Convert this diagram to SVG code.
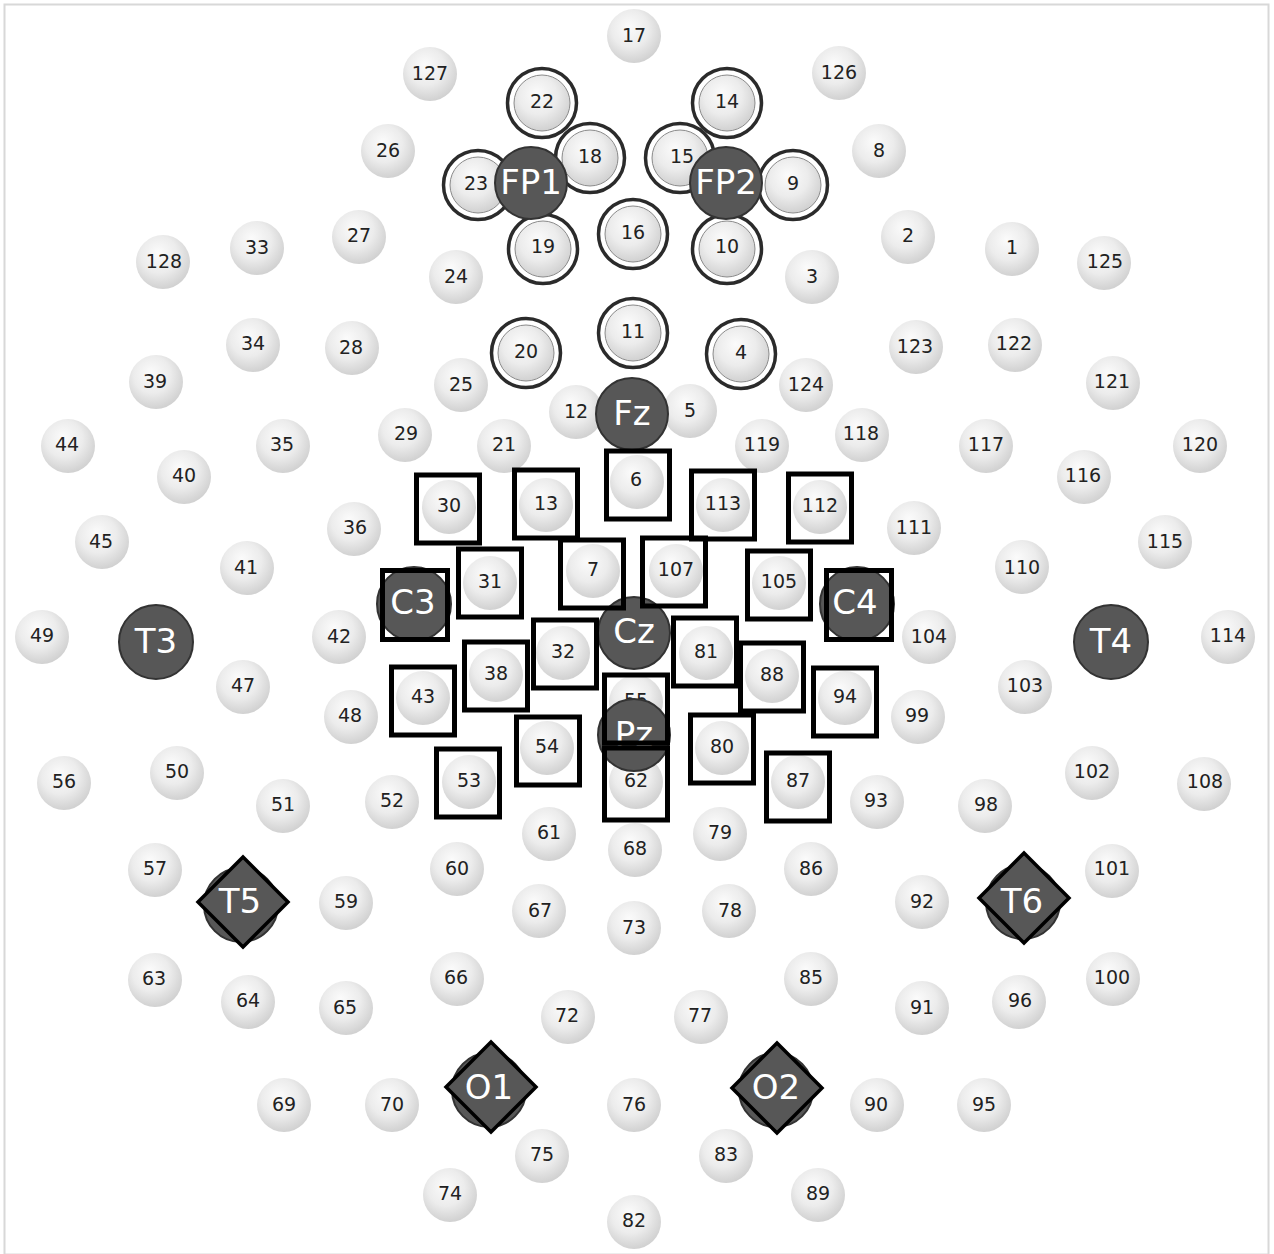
<svg xmlns="http://www.w3.org/2000/svg" width="1274" height="1254" viewBox="0 0 1274 1254">
<defs>
<radialGradient id="lg" cx="0.45" cy="0.4" r="0.62" fx="0.4" fy="0.32">
<stop offset="0" stop-color="#fbfbfb"/>
<stop offset="0.55" stop-color="#ececec"/>
<stop offset="1" stop-color="#cfcfcf"/>
</radialGradient>
<style>
.c{fill:url(#lg)}
.r{fill:#fff;stroke:#2b2b2b;stroke-width:3.5}
.ci{fill:url(#lg);stroke:#8a8a8a;stroke-width:1}
.d{fill:#575757;stroke:#333;stroke-width:2}
.s{fill:none;stroke:#000;stroke-width:5}
.m{fill:#575757;stroke:#000;stroke-width:3.5}
.n{font-family:"DejaVu Sans",sans-serif;font-size:19px;fill:#222;text-anchor:middle;dominant-baseline:central}
.L{font-family:"DejaVu Sans",sans-serif;font-size:34px;fill:#fff;text-anchor:middle;dominant-baseline:central}
</style>
</defs>
<rect x="0" y="0" width="1274" height="1254" fill="#fff"/>
<rect x="4.5" y="4.5" width="1264" height="1250" fill="none" stroke="#d8d8d8" stroke-width="2"/>
<g id="connectors"/>
<g id="rings">
<g id="e22"><circle class="r" cx="542" cy="103" r="34.5"/><circle class="ci" cx="542" cy="103" r="28"/><text class="n" x="542" y="101">22</text></g>
<g id="e14"><circle class="r" cx="727" cy="103" r="34.5"/><circle class="ci" cx="727" cy="103" r="28"/><text class="n" x="727" y="101">14</text></g>
<g id="e23"><circle class="r" cx="478" cy="185" r="34.5"/><circle class="ci" cx="478" cy="185" r="28"/><text class="n" x="476" y="183">23</text></g>
<g id="e9"><circle class="r" cx="793" cy="185" r="34.5"/><circle class="ci" cx="793" cy="185" r="28"/><text class="n" x="793" y="183">9</text></g>
<g id="e19"><circle class="r" cx="543" cy="249" r="34.5"/><circle class="ci" cx="543" cy="249" r="28"/><text class="n" x="543" y="246">19</text></g>
<g id="e10"><circle class="r" cx="727" cy="249" r="34.5"/><circle class="ci" cx="727" cy="249" r="28"/><text class="n" x="727" y="246">10</text></g>
<g id="e18"><circle class="r" cx="590" cy="158" r="34.5"/><circle class="ci" cx="590" cy="158" r="28"/><text class="n" x="590" y="156">18</text></g>
<g id="e15"><circle class="r" cx="680" cy="158" r="34.5"/><circle class="ci" cx="680" cy="158" r="28"/><text class="n" x="682" y="156">15</text></g>
<g id="e16"><circle class="r" cx="633" cy="234" r="34.5"/><circle class="ci" cx="633" cy="234" r="28"/><text class="n" x="633" y="232">16</text></g>
<g id="e11"><circle class="r" cx="633" cy="333" r="34.5"/><circle class="ci" cx="633" cy="333" r="28"/><text class="n" x="633" y="331">11</text></g>
<g id="e20"><circle class="r" cx="526" cy="353" r="34.5"/><circle class="ci" cx="526" cy="353" r="28"/><text class="n" x="526" y="351">20</text></g>
<g id="e4"><circle class="r" cx="741" cy="354" r="34.5"/><circle class="ci" cx="741" cy="354" r="28"/><text class="n" x="741" y="352">4</text></g>
</g>
<g id="plain">
<g id="e17"><circle class="c" cx="634" cy="36" r="27"/><text class="n" x="634" y="35">17</text></g>
<g id="e127"><circle class="c" cx="430" cy="74" r="27"/><text class="n" x="430" y="73">127</text></g>
<g id="e126"><circle class="c" cx="839" cy="73" r="27"/><text class="n" x="839" y="72">126</text></g>
<g id="e26"><circle class="c" cx="388" cy="151" r="27"/><text class="n" x="388" y="150">26</text></g>
<g id="e8"><circle class="c" cx="879" cy="151" r="27"/><text class="n" x="879" y="150">8</text></g>
<g id="e27"><circle class="c" cx="359" cy="237" r="27"/><text class="n" x="359" y="235">27</text></g>
<g id="e2"><circle class="c" cx="908" cy="237" r="27"/><text class="n" x="908" y="235">2</text></g>
<g id="e33"><circle class="c" cx="257" cy="248" r="27"/><text class="n" x="257" y="247">33</text></g>
<g id="e1"><circle class="c" cx="1012" cy="249" r="27"/><text class="n" x="1012" y="247">1</text></g>
<g id="e128"><circle class="c" cx="163" cy="262" r="27"/><text class="n" x="164" y="261">128</text></g>
<g id="e125"><circle class="c" cx="1104" cy="263" r="27"/><text class="n" x="1105" y="261">125</text></g>
<g id="e24"><circle class="c" cx="456" cy="277" r="27"/><text class="n" x="456" y="276">24</text></g>
<g id="e3"><circle class="c" cx="812" cy="277" r="27"/><text class="n" x="812" y="276">3</text></g>
<g id="e34"><circle class="c" cx="253" cy="345" r="27"/><text class="n" x="253" y="343">34</text></g>
<g id="e28"><circle class="c" cx="352" cy="348" r="27"/><text class="n" x="351" y="347">28</text></g>
<g id="e123"><circle class="c" cx="916" cy="347" r="27"/><text class="n" x="915" y="346">123</text></g>
<g id="e122"><circle class="c" cx="1015" cy="345" r="27"/><text class="n" x="1014" y="343">122</text></g>
<g id="e39"><circle class="c" cx="156" cy="382" r="27"/><text class="n" x="155" y="381">39</text></g>
<g id="e121"><circle class="c" cx="1113" cy="383" r="27"/><text class="n" x="1112" y="381">121</text></g>
<g id="e25"><circle class="c" cx="461" cy="385" r="27"/><text class="n" x="461" y="384">25</text></g>
<g id="e124"><circle class="c" cx="806" cy="385" r="27"/><text class="n" x="806" y="384">124</text></g>
<g id="e12"><circle class="c" cx="576" cy="412" r="27"/><text class="n" x="576" y="411">12</text></g>
<g id="e5"><circle class="c" cx="690" cy="411" r="27"/><text class="n" x="690" y="410">5</text></g>
<g id="e44"><circle class="c" cx="68" cy="446" r="27"/><text class="n" x="67" y="444">44</text></g>
<g id="e35"><circle class="c" cx="283" cy="446" r="27"/><text class="n" x="282" y="444">35</text></g>
<g id="e29"><circle class="c" cx="405" cy="435" r="27"/><text class="n" x="406" y="433">29</text></g>
<g id="e21"><circle class="c" cx="504" cy="446" r="27"/><text class="n" x="504" y="444">21</text></g>
<g id="e119"><circle class="c" cx="762" cy="446" r="27"/><text class="n" x="762" y="444">119</text></g>
<g id="e118"><circle class="c" cx="862" cy="435" r="27"/><text class="n" x="861" y="433">118</text></g>
<g id="e117"><circle class="c" cx="986" cy="446" r="27"/><text class="n" x="986" y="444">117</text></g>
<g id="e120"><circle class="c" cx="1200" cy="446" r="27"/><text class="n" x="1200" y="444">120</text></g>
<g id="e40"><circle class="c" cx="184" cy="477" r="27"/><text class="n" x="184" y="475">40</text></g>
<g id="e116"><circle class="c" cx="1084" cy="477" r="27"/><text class="n" x="1083" y="475">116</text></g>
<g id="e36"><circle class="c" cx="354" cy="529" r="27"/><text class="n" x="355" y="527">36</text></g>
<g id="e111"><circle class="c" cx="914" cy="528" r="27"/><text class="n" x="914" y="527">111</text></g>
<g id="e45"><circle class="c" cx="102" cy="542" r="27"/><text class="n" x="101" y="541">45</text></g>
<g id="e115"><circle class="c" cx="1165" cy="542" r="27"/><text class="n" x="1165" y="541">115</text></g>
<g id="e41"><circle class="c" cx="247" cy="568" r="27"/><text class="n" x="246" y="567">41</text></g>
<g id="e110"><circle class="c" cx="1022" cy="567" r="27"/><text class="n" x="1022" y="567">110</text></g>
<g id="e49"><circle class="c" cx="42" cy="637" r="27"/><text class="n" x="42" y="635">49</text></g>
<g id="e42"><circle class="c" cx="339" cy="637" r="27"/><text class="n" x="339" y="636">42</text></g>
<g id="e104"><circle class="c" cx="929" cy="637" r="27"/><text class="n" x="929" y="636">104</text></g>
<g id="e114"><circle class="c" cx="1228" cy="637" r="27"/><text class="n" x="1228" y="635">114</text></g>
<g id="e47"><circle class="c" cx="243" cy="687" r="27"/><text class="n" x="243" y="685">47</text></g>
<g id="e103"><circle class="c" cx="1025" cy="687" r="27"/><text class="n" x="1025" y="685">103</text></g>
<g id="e48"><circle class="c" cx="351" cy="717" r="27"/><text class="n" x="350" y="715">48</text></g>
<g id="e99"><circle class="c" cx="918" cy="717" r="27"/><text class="n" x="917" y="715">99</text></g>
<g id="e56"><circle class="c" cx="64" cy="783" r="27"/><text class="n" x="64" y="781">56</text></g>
<g id="e50"><circle class="c" cx="177" cy="773" r="27"/><text class="n" x="177" y="771">50</text></g>
<g id="e102"><circle class="c" cx="1092" cy="773" r="27"/><text class="n" x="1092" y="771">102</text></g>
<g id="e108"><circle class="c" cx="1204" cy="784" r="27"/><text class="n" x="1205" y="781">108</text></g>
<g id="e51"><circle class="c" cx="283" cy="806" r="27"/><text class="n" x="283" y="804">51</text></g>
<g id="e52"><circle class="c" cx="392" cy="802" r="27"/><text class="n" x="392" y="800">52</text></g>
<g id="e93"><circle class="c" cx="877" cy="802" r="27"/><text class="n" x="876" y="800">93</text></g>
<g id="e98"><circle class="c" cx="985" cy="806" r="27"/><text class="n" x="986" y="804">98</text></g>
<g id="e61"><circle class="c" cx="549" cy="834" r="27"/><text class="n" x="549" y="832">61</text></g>
<g id="e79"><circle class="c" cx="720" cy="834" r="27"/><text class="n" x="720" y="832">79</text></g>
<g id="e68"><circle class="c" cx="635" cy="850" r="27"/><text class="n" x="635" y="848">68</text></g>
<g id="e57"><circle class="c" cx="155" cy="870" r="27"/><text class="n" x="155" y="868">57</text></g>
<g id="e60"><circle class="c" cx="457" cy="869" r="27"/><text class="n" x="457" y="868">60</text></g>
<g id="e86"><circle class="c" cx="811" cy="869" r="27"/><text class="n" x="811" y="868">86</text></g>
<g id="e101"><circle class="c" cx="1112" cy="871" r="27"/><text class="n" x="1112" y="868">101</text></g>
<g id="e59"><circle class="c" cx="346" cy="903" r="27"/><text class="n" x="346" y="901">59</text></g>
<g id="e67"><circle class="c" cx="539" cy="911" r="27"/><text class="n" x="540" y="910">67</text></g>
<g id="e78"><circle class="c" cx="729" cy="911" r="27"/><text class="n" x="730" y="910">78</text></g>
<g id="e92"><circle class="c" cx="922" cy="902" r="27"/><text class="n" x="922" y="901">92</text></g>
<g id="e73"><circle class="c" cx="634" cy="928" r="27"/><text class="n" x="634" y="927">73</text></g>
<g id="e63"><circle class="c" cx="155" cy="980" r="27"/><text class="n" x="154" y="978">63</text></g>
<g id="e64"><circle class="c" cx="248" cy="1002" r="27"/><text class="n" x="248" y="1000">64</text></g>
<g id="e65"><circle class="c" cx="346" cy="1008" r="27"/><text class="n" x="345" y="1007">65</text></g>
<g id="e66"><circle class="c" cx="457" cy="979" r="27"/><text class="n" x="456" y="977">66</text></g>
<g id="e85"><circle class="c" cx="811" cy="979" r="27"/><text class="n" x="811" y="977">85</text></g>
<g id="e91"><circle class="c" cx="922" cy="1008" r="27"/><text class="n" x="922" y="1007">91</text></g>
<g id="e96"><circle class="c" cx="1019" cy="1002" r="27"/><text class="n" x="1020" y="1000">96</text></g>
<g id="e100"><circle class="c" cx="1113" cy="979" r="27"/><text class="n" x="1112" y="977">100</text></g>
<g id="e72"><circle class="c" cx="568" cy="1017" r="27"/><text class="n" x="567" y="1015">72</text></g>
<g id="e77"><circle class="c" cx="701" cy="1017" r="27"/><text class="n" x="700" y="1015">77</text></g>
<g id="e69"><circle class="c" cx="284" cy="1105" r="27"/><text class="n" x="284" y="1104">69</text></g>
<g id="e70"><circle class="c" cx="392" cy="1105" r="27"/><text class="n" x="392" y="1104">70</text></g>
<g id="e76"><circle class="c" cx="634" cy="1105" r="27"/><text class="n" x="634" y="1104">76</text></g>
<g id="e90"><circle class="c" cx="877" cy="1105" r="27"/><text class="n" x="876" y="1104">90</text></g>
<g id="e95"><circle class="c" cx="984" cy="1105" r="27"/><text class="n" x="984" y="1104">95</text></g>
<g id="e75"><circle class="c" cx="542" cy="1156" r="27"/><text class="n" x="542" y="1154">75</text></g>
<g id="e83"><circle class="c" cx="726" cy="1156" r="27"/><text class="n" x="726" y="1154">83</text></g>
<g id="e74"><circle class="c" cx="450" cy="1195" r="27"/><text class="n" x="450" y="1193">74</text></g>
<g id="e89"><circle class="c" cx="818" cy="1195" r="27"/><text class="n" x="818" y="1193">89</text></g>
<g id="e82"><circle class="c" cx="634" cy="1222" r="27"/><text class="n" x="634" y="1220">82</text></g>
<g id="e6"><circle class="c" cx="637" cy="482" r="27"/><text class="n" x="636" y="479">6</text></g>
<g id="e30"><circle class="c" cx="449" cy="507" r="27"/><text class="n" x="449" y="505">30</text></g>
<g id="e13"><circle class="c" cx="546" cy="505" r="27"/><text class="n" x="546" y="503">13</text></g>
<g id="e113"><circle class="c" cx="723" cy="505" r="27"/><text class="n" x="723" y="503">113</text></g>
<g id="e112"><circle class="c" cx="820" cy="507" r="27"/><text class="n" x="820" y="505">112</text></g>
<g id="e7"><circle class="c" cx="593" cy="571" r="27"/><text class="n" x="593" y="569">7</text></g>
<g id="e107"><circle class="c" cx="676" cy="571" r="27"/><text class="n" x="676" y="569">107</text></g>
<g id="e31"><circle class="c" cx="490" cy="583" r="27"/><text class="n" x="490" y="581">31</text></g>
<g id="e105"><circle class="c" cx="779" cy="583" r="27"/><text class="n" x="779" y="581">105</text></g>
<g id="e32"><circle class="c" cx="563" cy="653" r="27"/><text class="n" x="563" y="651">32</text></g>
<g id="e81"><circle class="c" cx="706" cy="653" r="27"/><text class="n" x="706" y="651">81</text></g>
<g id="e38"><circle class="c" cx="496" cy="675" r="27"/><text class="n" x="496" y="673">38</text></g>
<g id="e88"><circle class="c" cx="772" cy="676" r="27"/><text class="n" x="772" y="674">88</text></g>
<g id="e43"><circle class="c" cx="423" cy="698" r="27"/><text class="n" x="423" y="696">43</text></g>
<g id="e94"><circle class="c" cx="845" cy="698" r="27"/><text class="n" x="845" y="696">94</text></g>
<g id="e55"><circle class="c" cx="636" cy="702" r="27"/><text class="n" x="636" y="700">55</text></g>
<g id="e54"><circle class="c" cx="547" cy="748" r="27"/><text class="n" x="547" y="746">54</text></g>
<g id="e80"><circle class="c" cx="722" cy="748" r="27"/><text class="n" x="722" y="746">80</text></g>
<g id="e53"><circle class="c" cx="469" cy="782" r="27"/><text class="n" x="469" y="780">53</text></g>
<g id="e62"><circle class="c" cx="636" cy="782" r="27"/><text class="n" x="636" y="780">62</text></g>
<g id="e87"><circle class="c" cx="798" cy="782" r="27"/><text class="n" x="798" y="780">87</text></g>
</g>
<g id="named">
<g id="FP1"><circle class="d" cx="531" cy="183" r="36"/><text class="L" x="531" y="182">FP1</text></g>
<g id="FP2"><circle class="d" cx="726" cy="183" r="36"/><text class="L" x="726" y="182">FP2</text></g>
<g id="Fz"><circle class="d" cx="632" cy="414" r="36"/><text class="L" x="632" y="413">Fz</text></g>
<g id="T3"><circle class="d" cx="156" cy="642" r="37"/><text class="L" x="156" y="641">T3</text></g>
<g id="T4"><circle class="d" cx="1111" cy="642" r="37"/><text class="L" x="1111" y="641">T4</text></g>
<g id="Cz"><circle class="d" cx="634" cy="633" r="36"/><text class="L" x="634" y="631">Cz</text></g>
<g id="Pz"><circle class="d" cx="634" cy="735" r="36"/><text class="L" x="634" y="734">Pz</text></g>
<g id="C3"><circle class="d" cx="414" cy="604" r="37"/><rect class="s" x="382.5" y="570.5" width="65" height="69"/><text class="L" x="413" y="602">C3</text></g>
<g id="C4"><circle class="d" cx="857" cy="604" r="37"/><rect class="s" x="826.5" y="570.5" width="65" height="69"/><text class="L" x="855" y="602">C4</text></g>
<g id="T5"><circle class="d" cx="241" cy="905" r="37"/><polygon class="m" points="243,857 288,902 243,947 198,902"/><text class="L" x="240" y="901">T5</text></g>
<g id="T6"><circle class="d" cx="1023" cy="902" r="37"/><polygon class="m" points="1024,853 1069,898 1024,943 979,898"/><text class="L" x="1022" y="901">T6</text></g>
<g id="O1"><circle class="d" cx="489" cy="1090" r="37"/><polygon class="m" points="491,1042 536,1087 491,1132 446,1087"/><text class="L" x="489" y="1087">O1</text></g>
<g id="O2"><circle class="d" cx="776" cy="1090" r="37"/><polygon class="m" points="777,1043 822,1088 777,1133 732,1088"/><text class="L" x="776" y="1087">O2</text></g>
</g>
<g id="square-markers">
<rect id="sq6" class="s" x="606.5" y="451" width="63" height="68"/>
<rect id="sq30" class="s" x="416.5" y="475" width="63" height="68"/>
<rect id="sq13" class="s" x="514.5" y="470" width="63" height="68"/>
<rect id="sq113" class="s" x="691.5" y="471" width="63" height="68"/>
<rect id="sq112" class="s" x="788.5" y="474" width="63" height="68"/>
<rect id="sq7" class="s" x="560.5" y="540" width="63" height="68"/>
<rect id="sq107" class="s" x="642.5" y="538" width="63" height="68"/>
<rect id="sq31" class="s" x="458.5" y="549" width="63" height="68"/>
<rect id="sq105" class="s" x="747.5" y="551" width="63" height="68"/>
<rect id="sq32" class="s" x="533.5" y="620" width="63" height="68"/>
<rect id="sq81" class="s" x="673.5" y="618" width="63" height="68"/>
<rect id="sq38" class="s" x="464.5" y="642" width="63" height="68"/>
<rect id="sq88" class="s" x="740.5" y="643" width="63" height="68"/>
<rect id="sq43" class="s" x="391.5" y="667" width="63" height="68"/>
<rect id="sq94" class="s" x="813.5" y="668" width="63" height="68"/>
<rect id="sq55" class="s" x="604.5" y="675" width="63" height="68"/>
<rect id="sq54" class="s" x="516.5" y="717" width="63" height="68"/>
<rect id="sq80" class="s" x="690.5" y="715" width="63" height="68"/>
<rect id="sq53" class="s" x="436.5" y="749" width="63" height="68"/>
<rect id="sq62" class="s" x="604.5" y="748" width="63" height="72"/>
<rect id="sq87" class="s" x="766.5" y="753" width="63" height="68"/>
</g>
</svg>
